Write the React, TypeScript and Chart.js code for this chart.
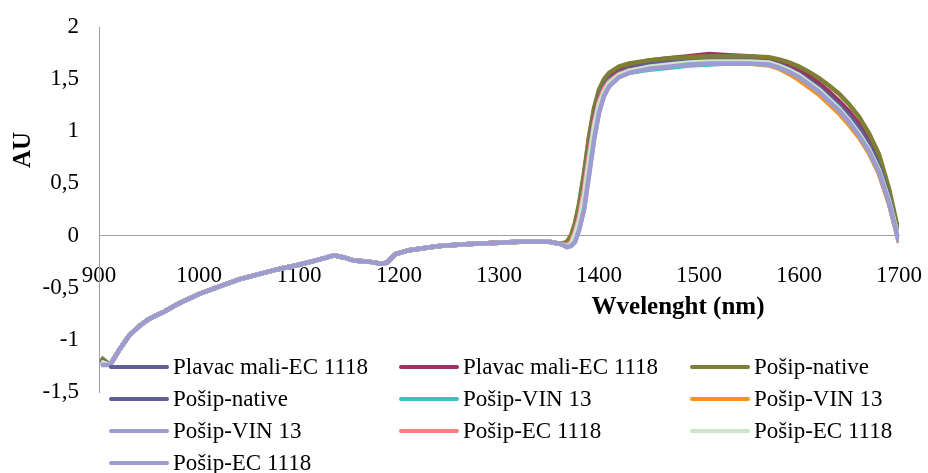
import React, { useEffect, useRef } from "react";
import { Chart, registerables } from "chart.js";

Chart.register(...registerables);

// Shared wavelengths (nm)
const lowWavelengths = [902, 911, 920, 930, 940, 950, 965, 980, 1000, 1020, 1040, 1060, 1080, 1100, 1120, 1135, 1145, 1155, 1170, 1182, 1188, 1196, 1210, 1240, 1270, 1300, 1320, 1350, 1362];
const highWavelengths = [1368, 1372, 1376, 1380, 1385, 1390, 1395, 1400, 1405, 1410, 1420, 1430, 1450, 1470, 1490, 1510, 1530, 1550, 1570, 1580, 1590, 1600, 1610, 1620, 1630, 1640, 1650, 1660, 1670, 1680, 1690, 1700];

// Common low-wavelength part (all spectra coincide here), after the first point
const lowShared = [-1.24, -1.10, -0.96, -0.87, -0.80, -0.73, -0.65, -0.56, -0.49, -0.42, -0.37, -0.32, -0.28, -0.23, -0.19, -0.21, -0.24, -0.25, -0.27, -0.26, -0.18, -0.14, -0.10, -0.08, -0.07, -0.06, -0.06, -0.08];

const seriesNames = [
  "Plavac mali-EC 1118",
  "Plavac mali-EC 1118",
  "Pošip-native",
  "Pošip-native",
  "Pošip-VIN 13",
  "Pošip-VIN 13",
  "Pošip-VIN 13",
  "Pošip-EC 1118",
  "Pošip-EC 1118",
  "Pošip-EC 1118",
];
const seriesColors = ["#5E5F98", "#9B3364", "#7E7F33", "#5E5F98", "#3FC0C0", "#F7941E", "#9C9CD0", "#F48080", "#CCE5C8", "#9C9CD0"];
const startValues = [-1.19, -1.18, -1.17, -1.2, -1.21, -1.22, -1.23, -1.22, -1.21, -1.24];

const plavacEc1 = [-0.08, -0.04, 0.08, 0.24, 0.52, 0.86, 1.15, 1.35, 1.46, 1.52, 1.58, 1.62, 1.65, 1.67, 1.68, 1.69, 1.69, 1.69, 1.68, 1.66, 1.62, 1.57, 1.51, 1.44, 1.37, 1.28, 1.18, 1.06, 0.90, 0.70, 0.40, -0.02];
const plavacEc2 = [-0.07, -0.02, 0.10, 0.28, 0.57, 0.92, 1.20, 1.38, 1.48, 1.54, 1.60, 1.64, 1.68, 1.70, 1.72, 1.74, 1.73, 1.72, 1.70, 1.68, 1.64, 1.59, 1.53, 1.46, 1.38, 1.29, 1.19, 1.07, 0.91, 0.70, 0.39, -0.03];
const posipNative1 = [-0.06, 0.0, 0.12, 0.30, 0.60, 0.95, 1.22, 1.40, 1.50, 1.56, 1.62, 1.65, 1.68, 1.70, 1.71, 1.72, 1.72, 1.72, 1.71, 1.69, 1.66, 1.62, 1.57, 1.51, 1.44, 1.36, 1.26, 1.14, 0.98, 0.78, 0.45, 0.02];
const posipNative2 = [-0.09, -0.06, 0.05, 0.20, 0.48, 0.82, 1.12, 1.32, 1.43, 1.50, 1.56, 1.60, 1.63, 1.65, 1.66, 1.67, 1.67, 1.67, 1.66, 1.64, 1.60, 1.55, 1.49, 1.42, 1.34, 1.25, 1.15, 1.03, 0.87, 0.67, 0.37, -0.04];
const posipVin1 = [-0.10, -0.08, 0.0, 0.12, 0.35, 0.70, 1.02, 1.25, 1.38, 1.45, 1.53, 1.56, 1.59, 1.61, 1.63, 1.64, 1.65, 1.65, 1.64, 1.61, 1.57, 1.52, 1.45, 1.37, 1.28, 1.19, 1.08, 0.95, 0.80, 0.60, 0.31, -0.06];
const posipVin2 = [-0.10, -0.07, 0.02, 0.15, 0.40, 0.74, 1.05, 1.27, 1.39, 1.46, 1.54, 1.58, 1.61, 1.63, 1.64, 1.65, 1.65, 1.65, 1.63, 1.60, 1.55, 1.49, 1.42, 1.35, 1.26, 1.17, 1.06, 0.94, 0.79, 0.59, 0.30, -0.07];
const posipVin3 = [-0.11, -0.10, -0.06, 0.05, 0.25, 0.58, 0.92, 1.18, 1.34, 1.43, 1.52, 1.56, 1.60, 1.62, 1.64, 1.65, 1.65, 1.65, 1.64, 1.61, 1.57, 1.52, 1.45, 1.38, 1.29, 1.20, 1.09, 0.96, 0.81, 0.61, 0.32, -0.06];
const posipEc1 = [-0.09, -0.06, 0.04, 0.18, 0.45, 0.78, 1.08, 1.29, 1.41, 1.48, 1.55, 1.58, 1.61, 1.63, 1.65, 1.66, 1.66, 1.66, 1.65, 1.62, 1.58, 1.53, 1.46, 1.39, 1.30, 1.21, 1.10, 0.97, 0.82, 0.62, 0.33, -0.05];
const posipEc2 = [-0.10, -0.08, 0.01, 0.14, 0.38, 0.72, 1.04, 1.26, 1.38, 1.46, 1.54, 1.58, 1.62, 1.64, 1.66, 1.67, 1.67, 1.67, 1.66, 1.63, 1.59, 1.54, 1.47, 1.40, 1.31, 1.22, 1.11, 0.98, 0.83, 0.63, 0.34, -0.04];
const posipEc3 = [-0.11, -0.10, -0.06, 0.05, 0.25, 0.58, 0.92, 1.18, 1.34, 1.43, 1.52, 1.56, 1.60, 1.62, 1.64, 1.65, 1.65, 1.65, 1.64, 1.61, 1.57, 1.52, 1.45, 1.38, 1.29, 1.20, 1.09, 0.96, 0.81, 0.61, 0.32, -0.06];

const highParts = [plavacEc1, plavacEc2, posipNative1, posipNative2, posipVin1, posipVin2, posipVin3, posipEc1, posipEc2, posipEc3];

const xTickStep = 100;
const yTickStep = 0.5;

const FONT = "'Liberation Serif', 'Times New Roman', serif";

const legendCols = [111, 401, 692];
const legendRows = [367, 399, 431, 463];

const overlayPlugin = {
  id: "overlay",
  afterDraw(chart: any) {
    const ctx = chart.ctx as CanvasRenderingContext2D;
    ctx.save();
    // legend
    ctx.font = `23px ${FONT}`;
    ctx.textBaseline = "middle";
    ctx.textAlign = "left";
    seriesNames.forEach((name, i) => {
      const col = i % 3;
      const row = Math.floor(i / 3);
      const x = legendCols[col];
      const y = legendRows[row];
      ctx.strokeStyle = seriesColors[i];
      ctx.lineWidth = 4;
      ctx.lineCap = "round";
      ctx.beginPath();
      ctx.moveTo(x, y);
      ctx.lineTo(x + 56, y);
      ctx.stroke();
      ctx.fillStyle = "#000";
      ctx.fillText(name, x + 62, y + 1);
    });
    // axis titles
    ctx.font = `bold 25px ${FONT}`;
    ctx.fillStyle = "#000";
    ctx.textAlign = "center";
    ctx.textBaseline = "middle";
    ctx.fillText("Wvelenght (nm)", 678, 308);
    ctx.translate(24, 150);
    ctx.rotate(-Math.PI / 2);
    ctx.fillText("AU", 0, 0);
    ctx.restore();
  },
};

export default function App() {
  const ref = useRef<HTMLCanvasElement>(null);
  useEffect(() => {
    if (!ref.current) return;
    const datasets = seriesNames.map((name, i) => {
      const ys = [startValues[i], ...lowShared, ...highParts[i]];
      const xs = [...lowWavelengths, ...highWavelengths];
      return {
        label: name,
        data: xs.map((x, k) => ({ x, y: ys[k] })),
        borderColor: seriesColors[i],
        backgroundColor: seriesColors[i],
        borderWidth: 4.5,
        pointRadius: 0,
        tension: 0,
        order: 10 - i,
      };
    });
    const chart = new Chart(ref.current, {
      type: "line",
      data: { datasets },
      options: {
        animation: false,
        responsive: false,
        layout: { padding: { top: 27, right: 29, bottom: 81, left: 0 } },
        plugins: { legend: { display: false }, tooltip: { enabled: false } },
        scales: {
          x: {
            type: "linear",
            position: { y: 0 } as any,
            min: 900,
            max: 1700,
            afterFit: (s: any) => {
              s.paddingLeft = 0;
              s.paddingRight = 0;
              s.paddingTop = 0;
              s.paddingBottom = 0;
            },
            grid: { display: false, drawTicks: false },
            border: { display: true, color: "#A0A0A0", width: 1 },
            ticks: {
              stepSize: xTickStep,
              color: "#000",
              font: { family: FONT, size: 23 },
              padding: 27,
              maxRotation: 0,
              callback: (v: any) => String(v),
            },
          },
          y: {
            type: "linear",
            position: "left",
            min: -1.5,
            max: 2,
            afterFit: (s: any) => {
              s.width = 99;
              s.paddingTop = 0;
              s.paddingBottom = 0;
            },
            grid: { display: false, drawTicks: false },
            border: { display: true, color: "#A0A0A0", width: 1 },
            ticks: {
              stepSize: yTickStep,
              color: "#000",
              font: { family: FONT, size: 23 },
              padding: 20,
              callback: (v: any) => String(v).replace(".", ","),
            },
          },
        },
      },
      plugins: [overlayPlugin],
    });
    return () => chart.destroy();
  }, []);
  return (
    <div style={{ position: "absolute", left: 0, top: 0, width: 928, height: 473, background: "#fff" }}>
      <canvas ref={ref} width={928} height={473} />
    </div>
  );
}
